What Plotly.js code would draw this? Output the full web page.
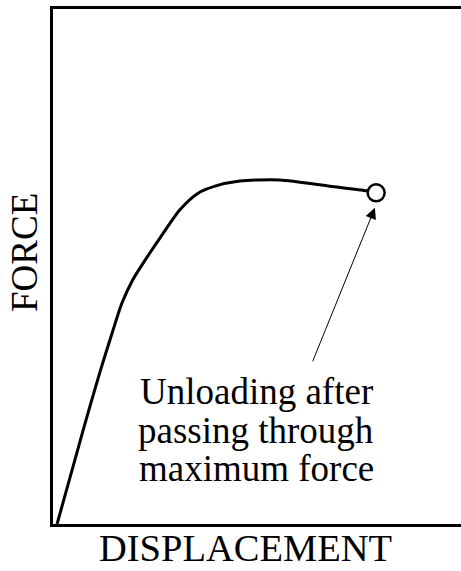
<!DOCTYPE html>
<html>
<head>
<meta charset="utf-8">
<script src="https://cdn.plot.ly/plotly-3.0.1.min.js"></script>
<style>html,body{margin:0;padding:0;background:#fff;}#chart{width:461px;height:571px;}</style>
</head>
<body>
<div id="chart"></div>
<script>
// Force–displacement curve (arbitrary units)
const displacement = [1.0, 7.6, 11.5, 14.5, 16.9, 19.4, 22.3, 26.2, 31.1, 35.3, 39.7, 45.8, 55.6, 67.9, 77.0, 79.2];
const force        = [0.0, 18.8, 29.5, 37.1, 42.9, 47.2, 50.9, 55.5, 61.0, 64.1, 65.6, 66.6, 66.8, 65.6, 64.7, 64.3];
// Unloading point (end of curve)
const unloadX = [79.2];
const unloadY = [64.3];
// Arrow tail (label side) and tip
const arrowTail = [63.5, 31.3];
const arrowTip  = [78.9, 61.4];
const labelLines = ["Unloading after", "passing through", "maximum force"];
const xTitle = "DISPLACEMENT";
const yTitle = "FORCE";

const serif = "Liberation Serif, Times New Roman, serif";

const traces = [
  {x: displacement, y: force, type: "scatter", mode: "lines",
   line: {color: "#000", width: 3, shape: "spline", smoothing: 0.7},
   hoverinfo: "skip", cliponaxis: false},
  {x: unloadX, y: unloadY, type: "scatter", mode: "markers",
   marker: {symbol: "circle", size: 17, color: "#fff", line: {color: "#000", width: 2.5}},
   hoverinfo: "skip", cliponaxis: false}
];

const W = 408, H = 515, L = 53, T = 9;
function px2paperX(px){ return (px - L) / W; }
function px2paperY(py){ return (T + H - py) / H; }

const lineCentersPx = [391, 430, 468];
const annotations = labelLines.map((t, i) => ({
  text: t, xref: "paper", yref: "paper",
  x: px2paperX(256), y: px2paperY(lineCentersPx[i]),
  xanchor: "center", yanchor: "middle", showarrow: false,
  font: {family: serif, size: 37, color: "#000"}
}));
annotations.push({
  text: "", x: arrowTip[0], y: arrowTip[1], ax: arrowTail[0], ay: arrowTail[1],
  xref: "x", yref: "y", axref: "x", ayref: "y",
  showarrow: true, arrowhead: 2, arrowsize: 2.2, arrowwidth: 1, arrowcolor: "#000", standoff: 0
});
annotations.push({
  text: xTitle, xref: "paper", yref: "paper",
  x: px2paperX(245), y: px2paperY(548), xanchor: "center", yanchor: "middle",
  showarrow: false, font: {family: serif, size: 38.5, color: "#000"}
});
annotations.push({
  text: yTitle, xref: "paper", yref: "paper",
  x: px2paperX(24), y: px2paperY(253), xanchor: "center", yanchor: "middle",
  textangle: -90, showarrow: false, font: {family: serif, size: 37, color: "#000"}
});

const layout = {
  width: 461, height: 571,
  margin: {l: L, r: 0, t: T, b: 571 - T - H},
  paper_bgcolor: "#fff", plot_bgcolor: "#fff",
  showlegend: false,
  xaxis: {range: [0, 100], showgrid: false, zeroline: false, showticklabels: false, ticks: "",
          showline: true, linecolor: "#000", linewidth: 3, mirror: true, fixedrange: true},
  yaxis: {range: [0, 100], showgrid: false, zeroline: false, showticklabels: false, ticks: "",
          showline: true, linecolor: "#000", linewidth: 3, mirror: false, fixedrange: true},
  annotations: annotations
};

Plotly.newPlot("chart", traces, layout, {displayModeBar: false, staticPlot: true});
</script>
</body>
</html>
